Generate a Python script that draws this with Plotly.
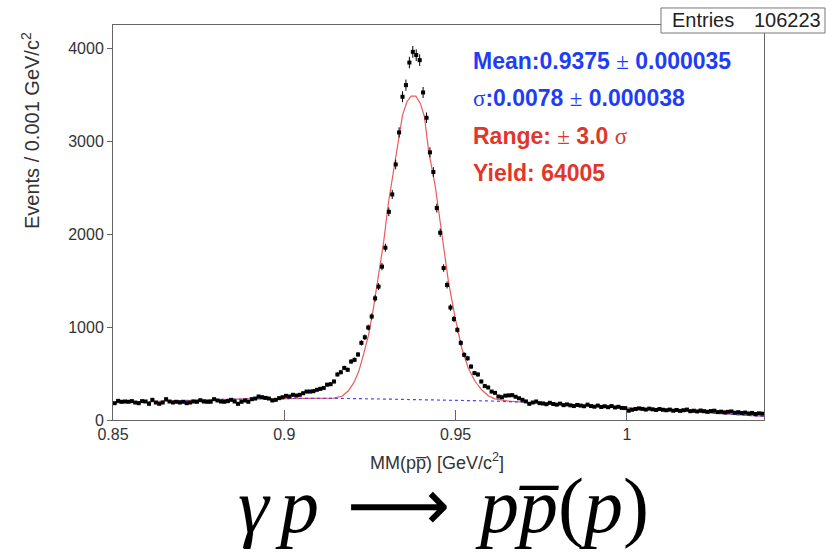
import numpy as np
import plotly.graph_objects as go

# ---------------- data ----------------
bin_lo = 0.850
bin_w = 0.001
counts = [
    181, 206, 196, 199, 196, 203, 188, 181, 203, 199,
    174, 217, 188, 174, 188, 224, 199, 188, 196, 188,
    196, 181, 188, 199, 196, 213, 199, 196, 196, 224,
    210, 199, 196, 203, 217, 199, 174, 196, 210, 196,
    224, 231, 253, 245, 238, 231, 210, 217, 235, 245,
    260, 253, 271, 263, 271, 288, 306, 306, 310, 325,
    335, 345, 380, 385, 414, 490, 514, 560, 540, 629,
    647, 705, 830, 890, 995, 1113, 1309, 1435, 1650, 1854,
    2240, 2427, 2750, 3094, 3478, 3603, 3846, 3961, 3926, 3872,
    3524, 3252, 2880, 2668, 2280, 2015, 1635, 1453, 1210, 1086,
    970, 830, 701, 664, 575, 505, 490, 414, 365, 350,
    306, 292, 253, 245, 262, 265, 267, 250, 234, 217,
    200, 174, 188, 199, 181, 178, 170, 185, 172, 165,
    176, 160, 168, 158, 150, 162, 155, 148, 165, 150,
    143, 155, 140, 148, 138, 150, 135, 142, 130, 128,
    100, 110, 118, 125, 120, 112, 122, 115, 108, 118,
    110, 105, 112, 100, 108, 98, 105, 112, 95, 100,
    92, 102, 95, 88, 96, 100, 85, 90, 82, 88,
    92, 78, 84, 75, 80, 70, 76, 65, 72, 68,
]
bin_centers = [round(bin_lo + bin_w * (i + 0.5), 4) for i in range(len(counts))]

fit_x = [0.850, 0.860, 0.870, 0.880, 0.890, 0.900, 0.910, 0.9144, 0.9168, 0.9187,
         0.9202, 0.9217, 0.9231, 0.9246, 0.9260, 0.9275, 0.9290, 0.9304, 0.9319, 0.9333,
         0.9345, 0.9358, 0.9370, 0.9384, 0.9397, 0.9409, 0.9421, 0.9440, 0.9460, 0.9479,
         0.9499, 0.9518, 0.9537, 0.9557, 0.9576, 0.9596, 0.9615, 0.965, 0.970, 0.980,
         0.990, 1.000, 1.010, 1.020, 1.030, 1.040]
fit_y = [185, 198, 210, 220, 228, 232, 233, 236, 255, 314,
         396, 521, 701, 916, 1202, 1561, 1919, 2340, 2690, 3048,
         3281, 3424, 3485, 3485, 3406, 3263, 2900, 2528, 1991, 1489,
         1094, 772, 557, 414, 325, 258, 228, 205, 191, 172,
         152, 132, 110, 86, 62, 38]

bkg_x = [0.85, 0.86, 0.87, 0.88, 0.89, 0.90, 0.91, 0.92, 0.93, 0.94,
         0.95, 0.96, 0.97, 0.98, 0.99, 1.00, 1.01, 1.02, 1.03, 1.04]
bkg_y = [185, 198, 210, 220, 228, 232, 233, 231, 226, 222,
         217, 205, 191, 172, 152, 132, 110, 86, 62, 38]

x_ticks = [0.85, 0.9, 0.95, 1.0]
x_tick_text = ["0.85", "0.9", "0.95", "1"]
y_ticks = [0, 1000, 2000, 3000, 4000]

entries = "106223"
stat_lines = [
    ("Mean:0.9375 ± 0.000035", "#1f3df5"),
    ("σ:0.0078 ± 0.000038", "#1f3df5"),
    ("Range: ± 3.0 σ", "#e0372c"),
    ("Yield: 64005", "#e0372c"),
]

# ---------------- figure ----------------
SANS = "Liberation Sans, Arial, sans-serif"
SERIF = "Liberation Serif, serif"
errs = np.sqrt(np.array(counts, dtype=float))

fig = go.Figure()
fig.add_trace(go.Scatter(x=fit_x, y=fit_y, mode="lines",
                         line=dict(color="rgb(236,90,90)", width=1.2),
                         hoverinfo="skip", showlegend=False))
fig.add_trace(go.Scatter(x=bkg_x, y=bkg_y, mode="lines",
                         line=dict(color="rgb(70,70,255)", width=1.2, dash="dot"),
                         hoverinfo="skip", showlegend=False))
fig.add_trace(go.Scatter(
    x=bin_centers, y=counts, mode="markers",
    marker=dict(color="black", size=4, symbol="square"),
    error_y=dict(type="data", array=errs, color="black", thickness=1, width=0),
    error_x=dict(type="constant", value=bin_w / 2, color="black", thickness=1, width=0),
    showlegend=False))

fig.update_layout(
    width=826, height=554,
    margin=dict(l=113, r=62, t=25, b=134),
    paper_bgcolor="white", plot_bgcolor="white",
    font=dict(family=SANS, color="#333"),
)
fig.update_xaxes(range=[0.85, 1.04], tickvals=x_ticks, ticktext=x_tick_text,
                 ticks="inside", ticklen=10, tickcolor="#666", tickwidth=1,
                 showline=True, linecolor="#666", linewidth=1, mirror=True,
                 showgrid=False, zeroline=False,
                 tickfont=dict(size=16, color="#333"))
fig.update_yaxes(range=[0, 4250], tickvals=y_ticks,
                 ticks="outside", ticklen=5, tickcolor="#666", tickwidth=1,
                 showline=True, linecolor="#666", linewidth=1, mirror=True,
                 showgrid=False, zeroline=False,
                 tickfont=dict(size=16, color="#333"))

# stats box
fig.add_shape(type="rect", xref="paper", yref="paper",
              x0=0.8418, x1=1.0937, y0=0.9797, y1=1.0431,
              line=dict(color="#777", width=1), fillcolor="white", layer="above")
fig.add_annotation(xref="paper", yref="paper", x=0.8555, y=1.0114, xanchor="left",
                   yanchor="middle", showarrow=False, text="Entries",
                   font=dict(family=SANS, size=20, color="#222"))
fig.add_annotation(xref="paper", yref="paper", x=1.0906, y=1.0114, xanchor="right",
                   yanchor="middle", showarrow=False, text=entries,
                   font=dict(family=SANS, size=20, color="#222"))

sym = "<span style=\"font-family:'Liberation Serif';font-weight:normal\">{}</span>"
ys = [0.9087, 0.8150, 0.7186, 0.6248]
for (txt, col), yy in zip(stat_lines, ys):
    t = txt.replace("±", sym.format("±")).replace("σ", sym.format("σ"))
    fig.add_annotation(xref="paper", yref="paper", x=0.550, y=yy, xanchor="left",
                       yanchor="middle", showarrow=False, text="<b>" + t + "</b>",
                       font=dict(family=SANS, size=23, color=col))

# axis titles
fig.add_annotation(xref="paper", yref="paper", x=-0.1275, y=0.734, textangle=-90,
                   xanchor="center", yanchor="middle", showarrow=False,
                   text="Events / 0.001 GeV/c<sup>2</sup>",
                   font=dict(family=SANS, size=20, color="#333"))
fig.add_annotation(xref="paper", yref="paper", x=0.4977, y=-0.106,
                   xanchor="center", yanchor="middle", showarrow=False,
                   text="MM(pp\u0305) [GeV/c<sup>2</sup>]",
                   font=dict(family=SANS, size=18, color="#333"))

# reaction formula (pieces placed to mimic LaTeX spacing)
formula_y = -0.216
fig.add_annotation(xref="paper", yref="paper", x=0.2166, y=formula_y,
                   xanchor="center", yanchor="middle", showarrow=False,
                   text="<i>γ</i>", font=dict(family=SERIF, size=78, color="black"))
fig.add_annotation(xref="paper", yref="paper", x=0.2826, y=formula_y,
                   xanchor="center", yanchor="middle", showarrow=False,
                   text="<i>p</i>", font=dict(family=SERIF, size=78, color="black"))
fig.add_annotation(xref="paper", yref="paper", x=0.4393, y=formula_y,
                   xanchor="center", yanchor="middle", showarrow=False,
                   text="⟶", font=dict(family="DejaVu Sans, sans-serif", size=72, color="black"))
fig.add_annotation(xref="paper", yref="paper", x=0.6897, y=formula_y,
                   xanchor="center", yanchor="middle", showarrow=False,
                   text="<i>pp\u0305</i>(<i>p</i>)",
                   font=dict(family=SERIF, size=78, color="black"))

fig.write_html("out.html")
